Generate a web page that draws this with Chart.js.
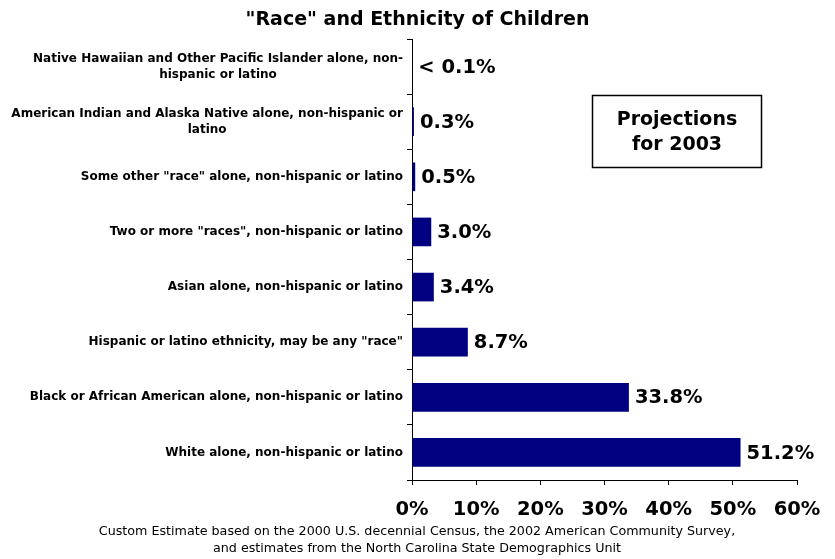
<!DOCTYPE html>
<html>
<head>
<meta charset="utf-8">
<script src="https://cdn.jsdelivr.net/npm/chart.js@4.4.1/dist/chart.umd.min.js"></script>
<style>
  html, body { margin: 0; padding: 0; background: #ffffff; }
  #wrap { width: 835px; height: 559px; }
</style>
</head>
<body>
<div id="wrap"><canvas id="chart" width="835" height="559"></canvas></div>
<script>
// Categories, top to bottom; each entry is the wrapped lines of the label.
const categories = [
  ['Native Hawaiian and Other Pacific Islander alone, non-', 'hispanic or latino'],
  ['American Indian and Alaska Native alone, non-hispanic or', 'latino'],
  ['Some other "race" alone, non-hispanic or latino'],
  ['Two or more "races", non-hispanic or latino'],
  ['Asian alone, non-hispanic or latino'],
  ['Hispanic or latino ethnicity, may be any "race"'],
  ['Black or African American alone, non-hispanic or latino'],
  ['White alone, non-hispanic or latino']
];
// Share of children, percent (first group is below 0.1%).
const shares = [0.05, 0.3, 0.5, 3.0, 3.4, 8.7, 33.8, 51.2];
const shareLabels = ['< 0.1%', '0.3%', '0.5%', '3.0%', '3.4%', '8.7%', '33.8%', '51.2%'];
const xTicks = [0, 10, 20, 30, 40, 50, 60];

const titleText = '"Race" and Ethnicity of Children';
const noteLines = [
  'Custom Estimate based on the 2000 U.S. decennial Census, the 2002 American Community Survey,',
  'and estimates from the North Carolina State Demographics Unit'
];
const boxLines = ['Projections', 'for 2003'];

const SANS = "'DejaVu Sans', Verdana, sans-serif";

// Draws the title, category labels, value labels, projection box and source note.
const decorations = {
  id: 'decorations',
  afterDraw(chart) {
    const ctx = chart.ctx;
    const yScale = chart.scales.y;
    ctx.save();
    ctx.fillStyle = '#000';

    // Title
    ctx.font = 'bold 19px ' + SANS;
    ctx.textAlign = 'center';
    ctx.textBaseline = 'middle';
    ctx.fillText(titleText, chart.width / 2, 20);

    // Category labels: block right-aligned at the axis, lines centred inside it
    ctx.font = 'bold 12px ' + SANS;
    const rightEdge = yScale.right - 9;
    const lineH = 16;
    categories.forEach((lines, i) => {
      const cy = yScale.getPixelForTick(i);
      const w = Math.max(...lines.map(l => ctx.measureText(l).width));
      const cx = rightEdge - w / 2;
      const y0 = cy - (lines.length - 1) * lineH / 2;
      lines.forEach((l, k) => ctx.fillText(l, cx, y0 + k * lineH));
    });

    // Value labels at the end of each bar
    ctx.font = 'bold 19.5px ' + SANS;
    ctx.textAlign = 'left';
    const meta = chart.getDatasetMeta(0);
    meta.data.forEach((bar, i) => {
      ctx.fillText(shareLabels[i], bar.x + 6, bar.y + 1);
    });

    // Projection box
    ctx.lineWidth = 1.5;
    ctx.strokeStyle = '#000';
    ctx.strokeRect(592.5, 95.5, 169, 72);
    ctx.font = 'bold 19px ' + SANS;
    ctx.textAlign = 'center';
    ctx.fillText(boxLines[0], 677, 120);
    ctx.fillText(boxLines[1], 677, 145);

    // Source note
    ctx.font = '12.7px ' + SANS;
    ctx.fillText(noteLines[0], 417, 532);
    ctx.fillText(noteLines[1], 417, 549);
    ctx.restore();
  }
};

new Chart(document.getElementById('chart'), {
  type: 'bar',
  data: {
    labels: categories,
    datasets: [{
      data: shares,
      backgroundColor: '#000080',
      borderWidth: 0,
      barPercentage: 0.52,
      categoryPercentage: 1.0
    }]
  },
  options: {
    indexAxis: 'y',
    responsive: false,
    animation: false,
    layout: { padding: { top: 39, right: 38, left: 0, bottom: 0 } },
    plugins: {
      legend: { display: false },
      title: { display: false },
      tooltip: { enabled: false }
    },
    scales: {
      x: {
        min: 0,
        max: 60,
        afterBuildTicks(scale) { scale.ticks = xTicks.map(v => ({ value: v })); },
        afterFit(scale) { scale.height = 79; },
        border: { display: true, color: '#000', width: 1 },
        grid: { drawOnChartArea: false, drawTicks: true, tickLength: 5, color: '#000' },
        ticks: {
          color: '#000',
          padding: 13,
          maxRotation: 0,
          font: { family: SANS, size: 19.5, weight: 'bold' },
          callback: v => v + '%'
        }
      },
      y: {
        offset: true,
        afterFit(scale) { scale.width = 412; },
        border: { display: true, color: '#000', width: 1 },
        grid: { offset: true, drawOnChartArea: false, drawTicks: true, tickLength: 5, color: '#000' },
        ticks: { display: false }
      }
    }
  },
  plugins: [decorations]
});
</script>
</body>
</html>
